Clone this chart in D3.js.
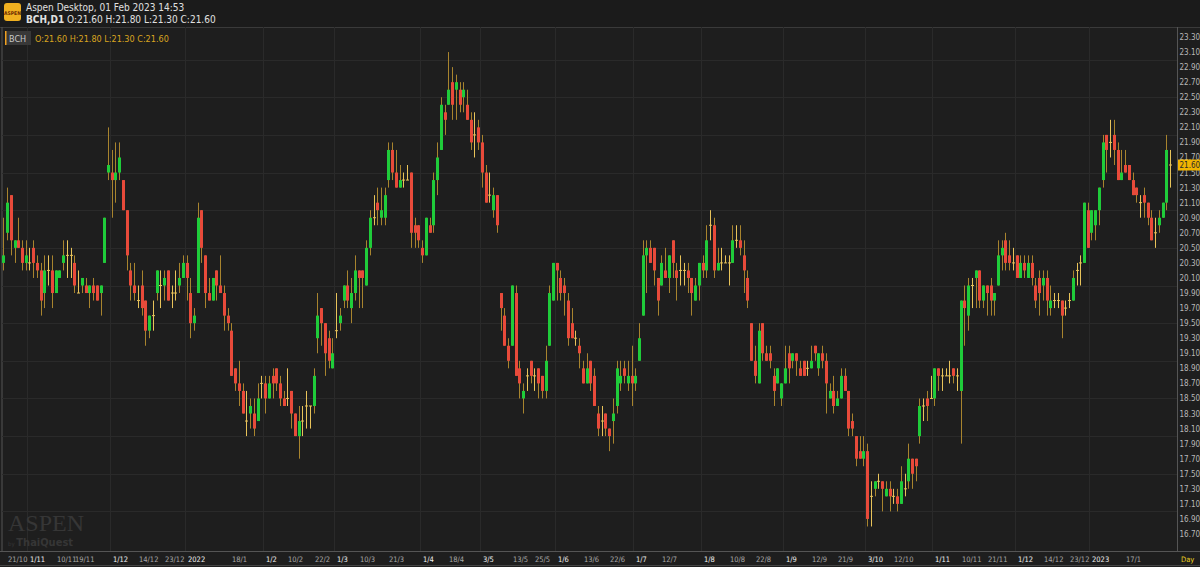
<!DOCTYPE html>
<html><head><meta charset="utf-8">
<script src="https://cdn.jsdelivr.net/npm/d3@7"></script>
<style>
html,body{margin:0;padding:0;background:#1e1e1e;overflow:hidden}
svg{display:block;font-family:"DejaVu Sans Condensed","DejaVu Sans",sans-serif}
</style></head><body>
<svg id="c" width="1200" height="567"></svg>
<script>
// [open, high, low, close] per trading day, 21/10/2021 .. 01/02/2023
const candles = [
[20.3,20.9,20.2,20.4],[20.7,21.3,20.6,21.1],[21.2,21.2,20.4,20.6],[20.5,20.6,20.3,20.6],[20.6,20.9,20.5,20.5],
[20.5,20.6,20.2,20.3],[20.3,20.6,20.2,20.4],[20.3,20.5,20.2,20.3],[20.5,20.6,20.1,20.3],[20.3,20.4,20.1,20.2],
[20.2,20.3,19.6,19.8],[19.9,20.4,19.7,20.2],[20.2,20.4,20.0,20.2],[20.2,20.4,19.7,19.9],[19.9,20.2,19.9,20.2],
[20.1,20.2,20.1,20.2],[20.3,20.6,20.2,20.4],[20.4,20.6,20.1,20.4],[20.4,20.5,20.1,20.4],[20.3,20.4,19.9,20.0],
[19.9,20.2,19.9,19.9],[20.0,20.1,19.9,20.1],[20.0,20.1,19.9,19.9],[19.9,20.0,19.7,20.0],[20.0,20.1,19.8,19.9],
[20.0,20.0,19.8,19.8],[19.9,20.0,19.6,20.0],[20.3,20.9,20.3,20.9],[21.5,22.1,21.4,21.6],[21.5,21.8,20.9,21.4],
[21.4,21.9,21.1,21.5],[21.5,21.9,21.4,21.7],[21.4,21.4,21.0,21.0],[21.0,21.0,20.2,20.4],[20.2,20.3,19.8,20.0],
[20.0,20.3,19.8,19.9],[19.8,20.0,19.7,19.8],[20.0,20.2,19.6,19.7],[19.8,19.8,19.2,19.4],[19.4,19.6,19.3,19.6],
[19.6,19.8,19.4,19.6],[19.9,20.2,19.8,20.2],[20.0,20.2,19.7,20.0],[20.0,20.2,19.8,20.1],[20.2,20.2,19.8,19.8],
[19.9,20.0,19.7,19.9],[19.9,20.2,19.8,19.9],[20.0,20.3,19.9,20.1],[20.1,20.4,20.1,20.3],[20.3,20.4,19.8,20.1],
[19.9,20.1,19.3,19.5],[19.5,19.7,19.4,19.6],[19.9,21.1,19.9,20.9],[21.0,21.0,20.3,20.5],[20.4,20.4,19.7,19.9],
[19.9,20.1,19.8,19.8],[19.8,20.1,19.8,20.1],[20.2,20.2,19.8,20.0],[20.0,20.4,19.9,19.9],[19.9,20.0,19.4,19.6],
[19.6,19.7,19.4,19.5],[19.4,19.5,18.8,18.8],[18.9,18.9,18.6,18.7],[18.7,19.0,18.4,18.6],[18.6,18.7,18.3,18.3],
[18.2,18.6,18.0,18.2],[18.3,18.5,18.1,18.4],[18.3,18.5,18.0,18.1],[18.2,18.7,18.2,18.5],[18.7,18.8,18.5,18.7],
[18.7,18.8,18.3,18.5],[18.5,18.8,18.5,18.7],[18.8,18.9,18.5,18.7],[18.9,18.9,18.6,18.7],[18.7,18.8,18.4,18.5],
[18.5,18.6,18.4,18.4],[18.5,18.9,18.4,18.5],[18.6,18.6,18.1,18.3],[18.3,18.3,18.0,18.0],[18.0,18.4,17.7,18.2],
[18.2,18.4,18.0,18.2],[18.4,18.6,18.1,18.4],[18.4,18.4,18.1,18.4],[18.4,18.9,18.3,18.8],[19.3,19.9,19.1,19.6],
[19.7,19.7,19.2,19.5],[19.5,19.5,18.8,19.1],[19.3,19.4,18.9,19.0],[18.9,19.3,18.9,19.1],[19.4,19.9,19.3,19.4],
[19.5,19.7,19.4,19.6],[19.8,20.0,19.7,20.0],[20.0,20.2,19.7,19.8],[19.7,20.1,19.5,19.9],[19.9,20.4,19.8,20.2],
[20.2,20.2,19.7,20.1],[20.2,20.2,19.7,20.1],[20.0,20.6,20.0,20.5],[20.5,21.0,20.4,20.9],[20.9,21.2,20.8,20.9],
[21.1,21.3,20.8,21.0],[20.9,21.3,20.8,21.0],[20.9,21.3,20.8,21.2],[21.4,21.9,21.3,21.8],[21.8,21.9,21.4,21.5],
[21.5,21.8,21.3,21.3],[21.3,21.6,21.3,21.4],[21.4,21.5,21.3,21.4],[21.4,21.6,21.4,21.4],[21.5,21.5,20.5,20.7],
[20.8,20.9,20.5,20.7],[20.8,20.8,20.5,20.6],[20.5,20.6,20.3,20.4],[20.4,20.9,20.4,20.9],[20.8,20.9,20.7,20.7],
[20.8,21.5,20.7,21.4],[21.4,21.9,21.2,21.7],[21.8,22.5,21.8,22.4],[22.3,22.4,22.0,22.2],[22.4,23.1,22.4,22.6],
[22.7,22.9,22.2,22.4],[22.6,22.8,22.2,22.7],[22.6,22.7,22.3,22.4],[22.5,22.7,22.3,22.6],[22.4,22.6,22.2,22.2],
[22.2,22.3,21.8,21.9],[22.0,22.3,21.7,22.0],[22.1,22.2,21.8,21.9],[21.9,22.0,21.3,21.5],[21.5,21.6,21.1,21.1],
[21.2,21.5,21.1,21.2],[21.0,21.3,20.9,21.2],[21.2,21.2,20.7,20.8],[19.9,19.9,19.4,19.7],[19.6,19.7,19.2,19.2],
[19.2,19.3,18.9,19.0],[19.2,20.0,19.2,20.0],[19.9,20.0,18.8,18.8],[18.9,19.0,18.5,18.7],[18.5,18.7,18.3,18.6],
[18.8,18.9,18.6,18.8],[19.0,19.0,18.7,18.8],[18.8,18.9,18.6,18.8],[18.9,18.9,18.5,18.7],[18.8,18.8,18.5,18.6],
[18.6,19.2,18.5,19.0],[19.2,20.0,19.2,19.9],[19.8,20.3,19.8,20.3],[20.3,20.3,19.8,20.2],[20.1,20.2,19.8,19.9],
[20.0,20.1,19.6,19.9],[19.8,19.9,19.2,19.3],[19.5,19.7,19.3,19.3],[19.3,19.4,19.2,19.3],[19.2,19.3,18.9,19.1],
[18.9,19.0,18.7,18.7],[18.7,19.1,18.7,18.9],[19.0,19.0,18.6,18.7],[18.8,18.9,18.4,18.4],[18.3,18.4,18.0,18.1],
[18.2,18.4,18.0,18.2],[18.3,18.3,18.0,18.1],[18.1,18.1,17.8,18.0],[18.2,18.5,17.9,18.3],[18.4,19.0,18.3,18.9],
[18.7,19.0,18.6,18.8],[18.9,19.0,18.7,18.8],[18.7,19.0,18.6,18.8],[18.8,19.2,18.4,18.7],[18.7,18.9,18.6,18.8],
[19.0,19.5,19.0,19.3],[19.6,20.6,19.6,20.4],[20.4,20.6,19.9,20.5],[20.5,20.6,20.3,20.3],[20.5,20.5,20.0,20.2],
[20.1,20.1,19.6,19.8],[20.0,20.4,20.0,20.3],[20.2,20.5,20.1,20.1],[20.1,20.4,19.9,20.4],[20.6,20.6,20.1,20.3],
[20.2,20.3,19.8,20.1],
[20.2,20.4,20.0,20.2],[20.2,20.3,20.0,20.2],[20.2,20.3,19.9,20.1],[20.1,20.1,19.6,19.9],[19.8,20.1,19.8,20.0],
[20.0,20.3,19.8,20.3],[20.3,20.4,20.1,20.2],[20.2,20.8,20.1,20.6],[20.8,21.0,20.6,20.8],[20.8,20.9,20.1,20.2],
[20.2,20.5,20.2,20.3],[20.3,20.5,20.2,20.3],[20.3,20.4,20.3,20.3],[20.3,20.4,20.0,20.3],[20.3,20.8,20.3,20.6],
[20.6,20.8,20.5,20.6],[20.6,20.8,20.4,20.5],[20.4,20.6,19.9,20.2],[20.1,20.2,19.7,19.8],[19.5,19.5,19.0,19.0],
[19.0,19.2,18.7,18.8],[18.7,19.5,18.7,19.4],[19.5,19.5,19.0,19.1],[19.1,19.2,19.0,19.0],[19.1,19.2,18.9,19.0],
[18.8,18.9,18.4,18.6],[18.7,18.9,18.7,18.9],[18.5,18.7,18.4,18.7],[18.7,19.2,18.7,18.9],[19.1,19.2,18.7,18.9],
[19.0,19.1,18.9,19.1],[19.1,19.1,18.8,19.0],[18.9,19.0,18.8,18.8],[19.0,19.0,18.8,18.8],[18.9,19.0,18.8,18.9],
[18.9,19.2,18.9,19.0],[19.2,19.2,19.0,19.1],[18.9,19.1,18.8,19.1],[19.1,19.2,18.9,19.0],[19.0,19.1,18.3,18.7],
[18.5,18.7,18.5,18.6],[18.6,18.8,18.3,18.4],[18.4,18.6,18.4,18.5],[18.5,18.9,18.5,18.8],[18.8,18.9,18.6,18.6],
[18.6,18.6,18.0,18.1],[18.2,18.3,18.0,18.1],[18.0,18.0,17.6,17.7],[17.8,18.0,17.7,17.7],[17.7,18.0,17.6,17.8],
[17.8,17.9,16.8,16.9],[17.2,17.4,16.8,17.2],[17.3,17.4,17.2,17.4],[17.4,17.5,17.3,17.4],[17.4,17.4,17.0,17.3],
[17.2,17.4,17.2,17.3],[17.3,17.4,17.0,17.2],[17.2,17.3,17.1,17.2],[17.2,17.3,17.0,17.1],[17.1,17.6,17.1,17.4],
[17.3,17.5,17.2,17.3],[17.4,17.9,17.3,17.7],[17.7,17.7,17.3,17.5],[17.7,17.7,17.4,17.6],[18.0,18.5,17.9,18.4],
[18.4,18.5,18.2,18.4],[18.5,18.6,18.2,18.4],[18.5,18.8,18.5,18.5],[18.5,18.9,18.4,18.9],[18.9,18.9,18.6,18.8],
[18.8,18.9,18.6,18.8],[18.8,18.9,18.8,18.8],[18.8,19.0,18.7,18.8],[18.9,18.9,18.7,18.8],[18.8,18.9,18.6,18.8],
[18.6,19.8,17.9,19.8],[19.8,20.0,19.2,19.7],[19.6,20.1,19.4,20.0],[20.0,20.1,19.7,20.0],[20.1,20.2,19.7,20.2],
[20.2,20.2,19.7,19.8],[19.8,20.0,19.7,20.0],[20.0,20.0,19.6,19.9],[20.0,20.1,19.6,19.8],[19.8,19.9,19.6,19.9],
[20.0,20.6,20.0,20.4],[20.4,20.6,20.2,20.5],[20.6,20.7,20.2,20.3],[20.4,20.6,20.2,20.3],[20.3,20.5,20.2,20.3],
[20.4,20.4,20.1,20.1],[20.1,20.4,20.1,20.3],[20.3,20.4,20.1,20.2],[20.1,20.4,20.1,20.3],[20.3,20.4,20.0,20.1],
[20.0,20.1,19.7,19.8],[20.1,20.2,19.6,19.9],[20.0,20.2,19.8,20.1],[20.1,20.2,19.6,19.8],[19.7,20.0,19.6,19.8],
[19.8,19.9,19.7,19.8],[19.8,19.9,19.7,19.8],[19.8,19.8,19.3,19.6],[19.7,19.8,19.6,19.7],[19.8,19.9,19.7,19.8],
[19.8,20.2,19.8,20.1],[20.2,20.3,20.0,20.2],[20.3,20.4,20.0,20.3],[20.3,21.1,20.3,21.1],[21.0,21.1,20.5,20.5],
[20.7,21.0,20.6,21.0],[20.8,21.0,20.6,21.0],[21.0,21.3,20.8,21.3],[21.4,22.0,21.3,21.9],[22.0,22.0,21.5,21.8],
[21.9,22.2,21.7,21.9],[22.0,22.2,21.6,21.8],[21.8,21.9,21.4,21.4],[21.4,21.8,21.4,21.5],[21.6,21.8,21.5,21.5],
[21.6,21.6,21.4,21.4],[21.4,21.5,21.2,21.2],[21.3,21.3,21.1,21.2],[21.1,21.2,20.9,21.1],[21.2,21.3,20.9,21.1],
[21.1,21.1,20.8,20.9],[20.9,21.0,20.6,20.6],[20.7,20.9,20.5,20.7],[20.8,21.0,20.7,20.9],[20.9,21.1,20.9,21.1],
[21.1,22.0,21.0,21.8],[21.6,21.8,21.3,21.6]
];
const tickLabels = ["21/10","1/11","10/11","19/11","1/12","14/12","23/12","2022","18/1","1/2","10/2","22/2","1/3","10/3","21/3","1/4","18/4","3/5","13/5","25/5","1/6","13/6","22/6","1/7","12/7","1/8","10/8","22/8","1/9","12/9","21/9","3/10","12/10","1/11","10/11","21/11","1/12","14/12","23/12","2023","17/1"];
const tickIndex  = [1,7,14,19,29,36,43,49,61,70,76,83,89,95,103,112,119,128,136,142,148,155,162,169,176,187,194,201,209,216,223,231,238,249,256,263,271,278,285,291,300];
const tickMajor  = [0,1,0,0,1,0,0,1,0,1,0,0,1,0,0,1,0,1,0,0,1,0,0,1,0,1,0,0,1,0,0,1,0,1,0,0,1,0,0,1,0];
const priceTicks = d3.range(0,34).map(i=>+(23.3-0.2*i).toFixed(2));
const gridPrices = d3.range(0,13).map(i=>23.0-0.5*i);
const last = {sym:"BCH", o:21.60, h:21.80, l:21.30, c:21.60};

const svg = d3.select("#c");
const W=1200, H=567, plotL=2, plotR=1177, plotT=27, plotB=551;
const x = d3.scaleLinear().domain([0, candles.length-1]).range([3.3, 1170]);
const y = d3.scaleLinear().domain([16.7, 23.3]).range([534, 37]);

svg.append("rect").attr("width",W).attr("height",H).attr("fill","#1e1e1e");
svg.append("rect").attr("width",W).attr("height",27).attr("fill","#1b1b1b");
svg.append("rect").attr("x",4).attr("y",3).attr("width",17).attr("height",18).attr("rx",3).attr("fill","#f0b020");
svg.append("text").attr("x",12.5).attr("y",15).attr("text-anchor","middle").attr("font-size",5).attr("fill","#6b2a00").attr("font-weight","bold").text("ASPEN");
svg.append("text").attr("x",26).attr("y",11).attr("font-size",10).attr("fill","#e0e0e0").text("Aspen Desktop, 01 Feb 2023 14:53");
const h2 = svg.append("text").attr("x",26).attr("y",23).attr("font-size",10).attr("fill","#e0e0e0");
h2.append("tspan").attr("font-weight","bold").text("BCH,D1");
h2.append("tspan").text(` O:${last.o.toFixed(2)} H:${last.h.toFixed(2)} L:${last.l.toFixed(2)} C:${last.c.toFixed(2)}`);

svg.append("line").attr("x1",0).attr("x2",W).attr("y1",27.5).attr("y2",27.5).attr("stroke","#3a3a3a");
svg.append("line").attr("x1",plotL).attr("x2",plotL).attr("y1",27).attr("y2",plotB).attr("stroke","#555");
svg.append("line").attr("x1",plotR+0.5).attr("x2",plotR+0.5).attr("y1",27).attr("y2",plotB).attr("stroke","#555");
svg.append("line").attr("x1",0).attr("x2",W).attr("y1",plotB+0.5).attr("y2",plotB+0.5).attr("stroke","#555");
svg.append("line").attr("x1",0).attr("x2",W).attr("y1",H-1.5).attr("y2",H-1.5).attr("stroke","#444");

svg.append("g").selectAll("line").data(gridPrices).join("line")
 .attr("x1",plotL).attr("x2",plotR).attr("y1",d=>Math.round(y(d))+0.5).attr("y2",d=>Math.round(y(d))+0.5)
 .attr("stroke","#2a2a2a");
svg.append("g").selectAll("line").data(tickIndex.filter((d,i)=>tickMajor[i])).join("line")
 .attr("x1",d=>Math.round(x(d))-1.5).attr("x2",d=>Math.round(x(d))-1.5).attr("y1",plotT).attr("y2",plotB)
 .attr("stroke","#2a2a2a");

svg.append("text").attr("x",8).attr("y",531).attr("font-family","Liberation Serif,serif").attr("font-size",24).attr("fill","#363636").text("ASPEN");
const wm = svg.append("text").attr("x",8).attr("y",546).attr("fill","#363636");
wm.append("tspan").attr("font-size",6).text("by ");
wm.append("tspan").attr("font-size",11).attr("font-weight","bold").text("ThaiQuest");

const g = svg.append("g");
candles.forEach((d,i)=>{
  const [o,h,l,c]=d, cx=Math.round(x(i))+0.5;
  const doji = o===c;
  const wc = doji ? "#e8c35a" : "#a8842e";
  g.append("line").attr("x1",cx).attr("x2",cx).attr("y1",y(h)).attr("y2",y(l)).attr("stroke",wc).attr("stroke-width",1);
  if(doji){
    g.append("line").attr("x1",cx-1.5).attr("x2",cx+1.5).attr("y1",y(o)).attr("y2",y(o)).attr("stroke",wc);
  } else {
    g.append("rect").attr("x",cx-1.5).attr("width",3)
     .attr("y",y(Math.max(o,c))).attr("height",Math.max(1,y(Math.min(o,c))-y(Math.max(o,c))))
     .attr("fill", c>o ? "#1fcc3a" : "#e84a3a");
  }
});

svg.append("g").selectAll("text").data(priceTicks).join("text")
 .attr("x",1179.5).attr("y",d=>y(d)+3).attr("font-size",8).attr("fill","#b8b8b8").text(d=>d.toFixed(2));
svg.append("rect").attr("x",1178).attr("y",y(last.c)-5.5).attr("width",22).attr("height",11).attr("fill","#f0b400");
svg.append("text").attr("x",1179.5).attr("y",y(last.c)+3).attr("font-size",8).attr("fill","#2a2a2a").text(last.c.toFixed(2));

svg.append("g").selectAll("text").data(tickLabels).join("text")
 .attr("x",(d,i)=>Math.round(x(tickIndex[i]))+1).attr("y",562).attr("font-size",7.5)
 .attr("fill",(d,i)=>tickMajor[i]?"#f0f0f0":"#a8a8a8").text(d=>d);
svg.append("text").attr("x",1181).attr("y",562).attr("font-size",7.5).attr("fill","#e8d020").text("Day");

svg.append("rect").attr("x",5).attr("y",31).attr("width",26).attr("height",14).attr("fill","#383838");
svg.append("rect").attr("x",5).attr("y",31).attr("width",1.5).attr("height",14).attr("fill","#f0a020");
svg.append("text").attr("x",9).attr("y",41.5).attr("font-size",9).attr("fill","#c8c8c8").text(last.sym);
svg.append("text").attr("x",35).attr("y",41.5).attr("font-size",9).attr("fill","#d9a520")
 .text(`O:${last.o.toFixed(2)} H:${last.h.toFixed(2)} L:${last.l.toFixed(2)} C:${last.c.toFixed(2)}`);
</script></body></html>
